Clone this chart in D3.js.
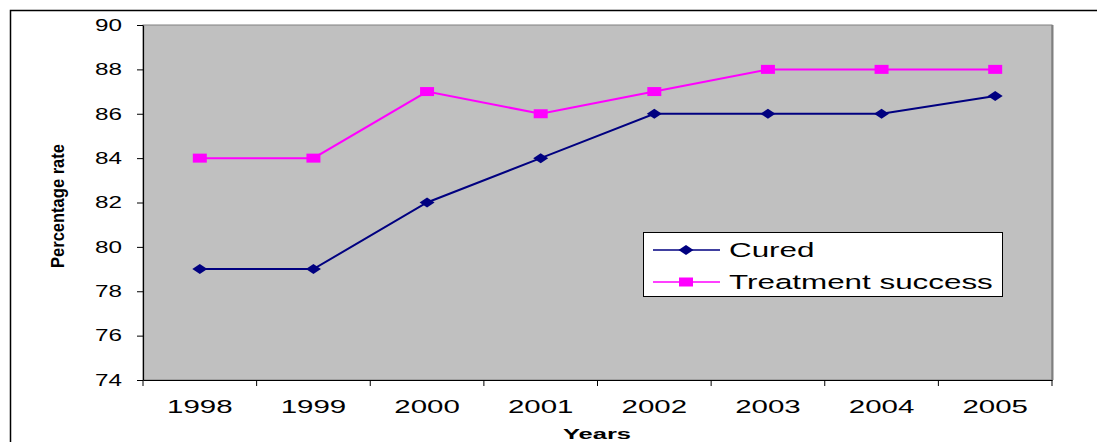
<!DOCTYPE html>
<html>
<head>
<meta charset="utf-8">
<script src="https://cdn.jsdelivr.net/npm/d3@7"></script>
<style>
  html, body { margin: 0; padding: 0; background: #fff; }
  svg { display: block; font-family: "Liberation Sans", Arial, sans-serif; }
</style>
</head>
<body>
<svg id="chart" width="1097" height="442"></svg>
<script>
// data
const years = ["1998", "1999", "2000", "2001", "2002", "2003", "2004", "2005"];
const cured = [79, 79, 82, 84, 86, 86, 86, 86.8];
const treatmentSuccess = [84, 84, 87, 86, 87, 88, 88, 88];
const yTicks = [74, 76, 78, 80, 82, 84, 86, 88, 90];
const seriesNames = ["Cured", "Treatment success"];

const svg = d3.select("#chart");
const W = 1097, H = 442;
const plot = { left: 143, right: 1052, top: 25, bottom: 380 };

// the original picture is stretched sideways, so text is widened too
const STRETCH = 1.47;
function widen(sel, k = STRETCH) {
  sel.each(function () {
    const len = this.getComputedTextLength();
    d3.select(this).attr("textLength", len * k).attr("lengthAdjust", "spacingAndGlyphs");
  });
}

// outer frame (only top/left edges are inside the crop)
svg.append("rect")
  .attr("x", 10.5).attr("y", 10.5)
  .attr("width", W + 20).attr("height", H + 20)
  .attr("fill", "#fff").attr("stroke", "#000").attr("stroke-width", 1.5);

// bit of the cut-off caption at the very top
svg.append("text").attr("x", 24).attr("y", -3)
  .attr("font-size", 16).attr("font-weight", "bold").text("g");

const x = d3.scaleBand().domain(years).range([plot.left, plot.right]);
const y = d3.scaleLinear().domain([74, 90]).range([plot.bottom, plot.top]);
const cx = (d) => x(d) + x.bandwidth() / 2;

// plot area
svg.append("rect")
  .attr("x", plot.left).attr("y", plot.top)
  .attr("width", plot.right - plot.left).attr("height", plot.bottom - plot.top)
  .attr("fill", "#c0c0c0").attr("stroke", "#808080").attr("stroke-width", 1);
svg.append("line")
  .attr("x1", plot.right + 0.5).attr("x2", plot.right + 0.5)
  .attr("y1", plot.top).attr("y2", plot.bottom)
  .attr("stroke", "#808080").attr("stroke-width", 2);

// y axis
const yAxis = svg.append("g")
  .attr("transform", `translate(${plot.left},0)`)
  .call(d3.axisLeft(y).tickValues(yTicks).tickSize(6).tickPadding(15).tickSizeOuter(0));
yAxis.select(".domain").attr("stroke", "#000").attr("stroke-width", 1.2);
yAxis.selectAll(".tick line").attr("stroke", "#000");
yAxis.selectAll("text").attr("font-size", 16.5).attr("fill", "#000")
  .attr("font-family", "Liberation Sans, Arial, sans-serif");
widen(yAxis.selectAll("text"));

// x axis: labels at band centres, ticks at band edges
const xAxis = svg.append("g")
  .attr("transform", `translate(0,${plot.bottom})`)
  .call(d3.axisBottom(x).tickSize(0).tickPadding(20));
xAxis.select(".domain").attr("stroke", "#000").attr("stroke-width", 1.2);
xAxis.selectAll("text").attr("font-size", 19).attr("fill", "#000")
  .attr("font-family", "Liberation Sans, Arial, sans-serif");
widen(xAxis.selectAll("text"), 1.55);
const edges = years.map((d) => x(d)).concat([plot.right]);
xAxis.selectAll(".edge").data(edges).join("line")
  .attr("class", "edge")
  .attr("x1", (d) => d).attr("x2", (d) => d)
  .attr("y1", 0).attr("y2", 6)
  .attr("stroke", "#000");

// axis titles
const yTitle = svg.append("text")
  .attr("transform", "translate(64,206) rotate(-90)")
  .attr("text-anchor", "middle")
  .attr("font-size", 18).attr("font-weight", "bold")
  .text("Percentage rate");
yTitle.attr("textLength", 124).attr("lengthAdjust", "spacingAndGlyphs");

const xTitle = svg.append("text")
  .attr("x", 597).attr("y", 439)
  .attr("text-anchor", "middle")
  .attr("font-size", 15).attr("font-weight", "bold")
  .text("Years");
widen(xTitle, 1.7);

// series
const line = d3.line().x((d) => cx(d.year)).y((d) => y(d.v));
const curedPts = years.map((yr, i) => ({ year: yr, v: cured[i] }));
const treatPts = years.map((yr, i) => ({ year: yr, v: treatmentSuccess[i] }));

const diamond = "M-7.5,0L0,-5L7.5,0L0,5Z";

svg.append("path").datum(treatPts).attr("d", line)
  .attr("fill", "none").attr("stroke", "#ff00ff").attr("stroke-width", 2);
svg.append("g").selectAll("rect").data(treatPts).join("rect")
  .attr("x", (d) => cx(d.year) - 7).attr("y", (d) => y(d.v) - 4.5)
  .attr("width", 14).attr("height", 9).attr("fill", "#ff00ff");

svg.append("path").datum(curedPts).attr("d", line)
  .attr("fill", "none").attr("stroke", "#000080").attr("stroke-width", 2);
svg.append("g").selectAll("path").data(curedPts).join("path")
  .attr("transform", (d) => `translate(${cx(d.year)},${y(d.v)})`)
  .attr("d", diamond).attr("fill", "#000080");

// legend
const lg = svg.append("g").attr("transform", "translate(643,232)");
lg.append("rect").attr("x", 0.5).attr("y", 0.5).attr("width", 359).attr("height", 64)
  .attr("fill", "#fff").attr("stroke", "#000").attr("stroke-width", 1);
const colors = ["#000080", "#ff00ff"];
seriesNames.forEach((name, i) => {
  const ry = 18 + i * 32;
  const row = lg.append("g").attr("transform", `translate(0,${ry})`);
  row.append("line").attr("x1", 10).attr("x2", 77).attr("y1", 0).attr("y2", 0)
    .attr("stroke", colors[i]).attr("stroke-width", 1.5);
  if (i === 0) {
    row.append("path").attr("transform", "translate(43,0)").attr("d", diamond).attr("fill", colors[i]);
  } else {
    row.append("rect").attr("x", 36).attr("y", -4.5).attr("width", 14).attr("height", 9).attr("fill", colors[i]);
  }
  const t = row.append("text").attr("x", 86).attr("y", 7)
    .attr("font-size", 20.5).text(name);
  widen(t, 1.53);
});
</script>
</body>
</html>
